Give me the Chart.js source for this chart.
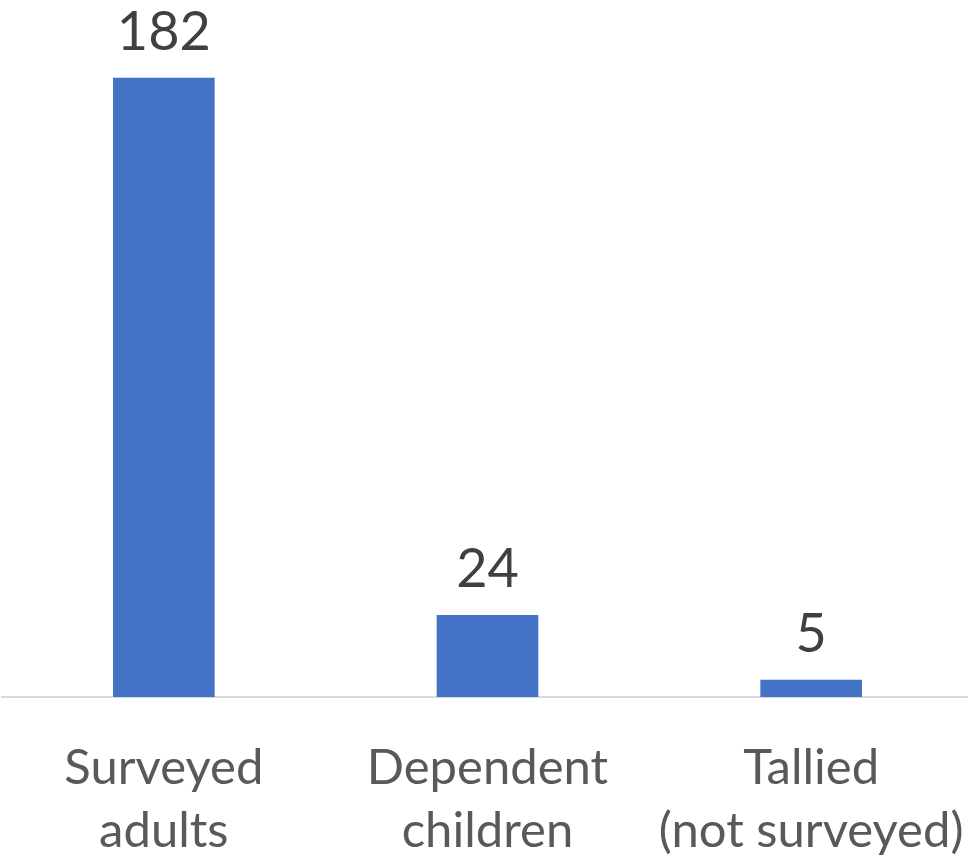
<!DOCTYPE html>
<html>
<head>
<meta charset="utf-8">
<script src="https://cdn.jsdelivr.net/npm/chart.js@4.4.1/dist/chart.umd.min.js"></script>
<style>
  html, body { margin: 0; padding: 0; background: #fff; overflow: hidden; }
  /* a little wider than the window so the axis runs off the right edge */
  #wrap { width: 973px; height: 856px; position: relative; }
</style>
</head>
<body>
<div id="wrap"><canvas id="myChart"></canvas></div>
<script>
const categories = [['Surveyed', 'adults'], ['Dependent', 'children'], ['Tallied', '(not surveyed)']];
const counts = [182, 24, 5];
const yMax = 200;

// draw the value above each bar
const valueLabels = {
    id: 'valueLabels',
    afterDatasetsDraw(chart) {
        const c = chart.ctx;
        const meta = chart.getDatasetMeta(0);
        c.save();
        c.font = '54px Lato';
        c.fillStyle = '#404040';
        c.textAlign = 'center';
        c.textBaseline = 'alphabetic';
        meta.data.forEach((bar, i) => {
            c.fillText(String(counts[i]), bar.x, bar.y - 28);
        });
        c.restore();
    }
};

const ctx = document.getElementById('myChart');

new Chart(ctx, {
    type: 'bar',
    data: {
        labels: categories,
        datasets: [{
            data: counts,
            backgroundColor: '#4472C4',
            borderWidth: 0,
            barThickness: 101
        }]
    },
    options: {
        responsive: true,
        maintainAspectRatio: false,
        animation: false,
        layout: { padding: { top: 17, left: 2, right: 0, bottom: 0 } },
        plugins: {
            legend: { display: false },
            title: { display: false },
            tooltip: { enabled: false }
        },
        scales: {
            x: {
                grid: { display: false, drawTicks: false },
                border: { display: true, color: '#D9D9D9', width: 2 },
                ticks: {
                    color: '#595959',
                    font: { family: 'Lato', size: 49, lineHeight: 1.3 },
                    padding: 39,
                    maxRotation: 0,
                    autoSkip: false
                },
                afterFit: (scale) => {
                    // labels may run off the canvas like in the original
                    scale.height = 159;
                    scale.paddingLeft = 0;
                    scale.paddingRight = 0;
                }
            },
            y: {
                display: false,
                min: 0,
                max: yMax
            }
        }
    },
    plugins: [valueLabels]
});
</script>
</body>
</html>
